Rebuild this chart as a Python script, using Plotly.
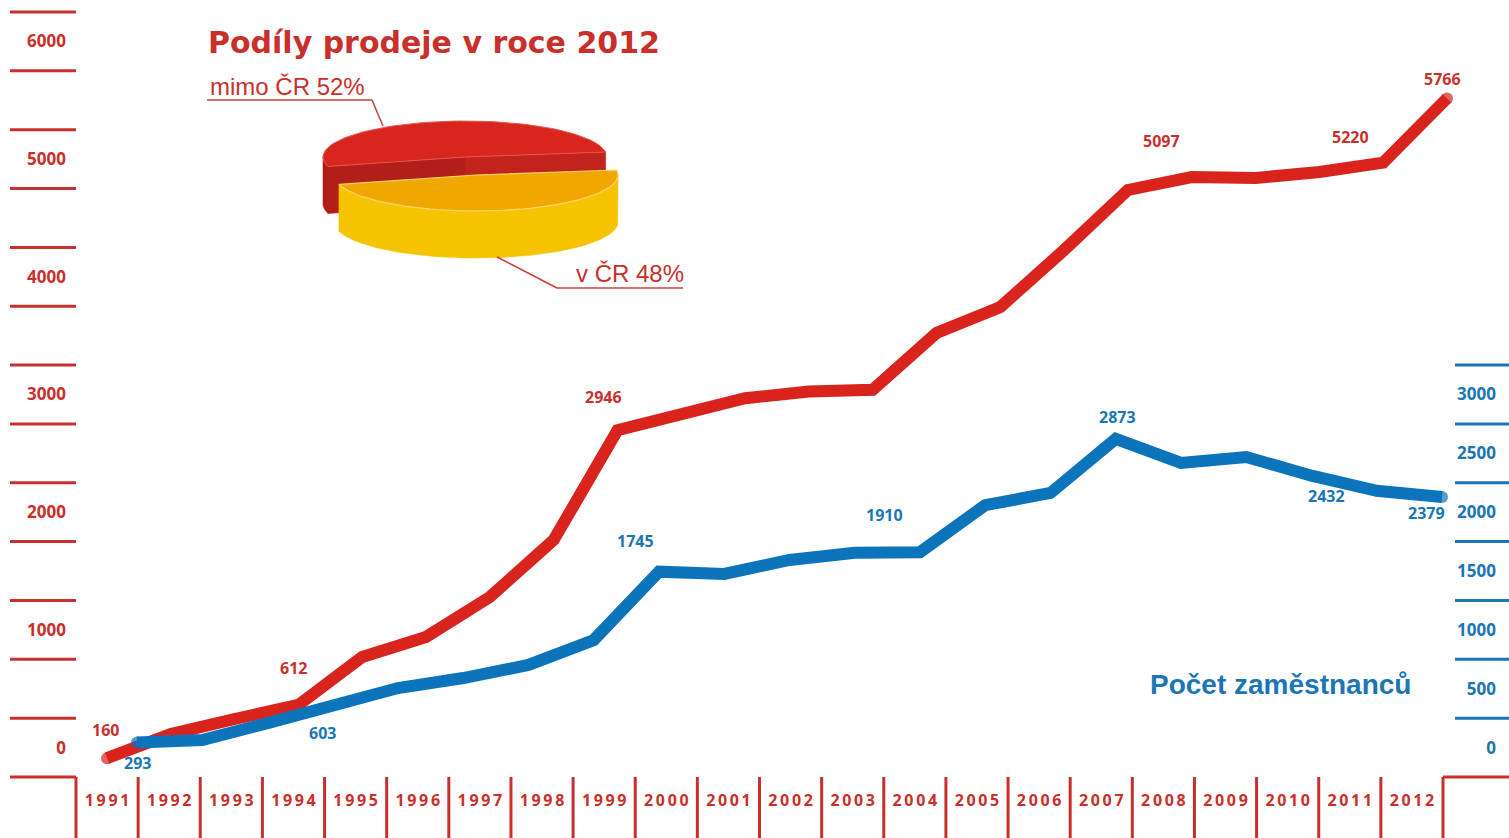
import math
import plotly.graph_objects as go

W, H = 1509, 838

# ---------------- data ----------------
years = list(range(1991, 2013))
sales = [160, 365, 493, 612, 1020, 1190, 1529, 2014, 2946, 3090, 3218,
         3275, 3290, 3773, 3993, 4478, 4988, 5097, 5090, 5140, 5220, 5766]
emp_years = list(range(1992, 2013))
employees = [293, 314, 458, 603, 756, 841, 952, 1164, 1745, 1725, 1844,
             1905, 1910, 2310, 2413, 2873, 2668, 2719, 2560, 2432, 2379]

left_ticks = [0, 1000, 2000, 3000, 4000, 5000, 6000]
right_ticks = [0, 500, 1000, 1500, 2000, 2500, 3000]

pie_labels = ["mimo ČR", "v ČR"]
pie_shares = [52, 48]

title_text = "Podíly prodeje v roce 2012"
emp_title = "Počet zaměstnanců"

# labelled points and their (xshift, yshift) offsets
red_label_years = {1991: (-2, 28), 1994: (-5, 37), 1999: (-14, 33),
                   2008: (-30, 36), 2011: (-33, 26), 2012: (-5, 19)}
blue_label_years = {1992: (0, -20), 1995: (-10, -27), 2000: (-24, 31),
                    2004: (-36, 37), 2007: (2, 22), 2011: (-50, -5),
                    2012: (-16, -16)}

# ---------------- styles ----------------
RED_LINE = "#d9231d"
RED_TXT = "#c9302c"
BLUE_LINE = "#0b74bb"
BLUE_TXT = "#1b76b6"
NUM_FONT = "Open Sans, DejaVu Sans, sans-serif"
HEAD_FONT = "Liberation Sans, Arial, sans-serif"
TITLE_FONT = "DejaVu Sans, Liberation Sans, sans-serif"


def fx(p):
    return p / W


def fy(p):
    return 1 - p / H


def lin_range(p0, v0, p1, v1, lo, hi):
    s = (v1 - v0) / (p1 - p0)
    return [v0 + (lo - p0) * s, v0 + (hi - p0) * s]


# axis ranges (pixel anchors -> value)
x_red = lin_range(107, 1991, 1447, 2012, 0, W)
x_blue = lin_range(137, 1992, 1442, 2012, 0, W)
x_years = lin_range(107.07, 1991, 1411.93, 2012, 0, W)
y_rng = lin_range(777, 0, 12, 6500, H, 0)  # bottom -> top

fig = go.Figure()

# red line (sales)
ends_r = [12 if i in (0, len(sales) - 1) else 0 for i in range(len(sales))]
fig.add_trace(go.Scatter(
    x=years, y=sales, xaxis="x", yaxis="y", mode="lines+markers",
    line=dict(color=RED_LINE, width=12),
    marker=dict(size=ends_r, color=RED_LINE, line=dict(width=0)),
    hoverinfo="skip", showlegend=False))

# blue line (employees)
ends_b = [12 if i in (0, len(employees) - 1) else 0 for i in range(len(employees))]
fig.add_trace(go.Scatter(
    x=emp_years, y=employees, xaxis="x2", yaxis="y2", mode="lines+markers",
    line=dict(color=BLUE_LINE, width=12),
    marker=dict(size=ends_b, color=BLUE_LINE, line=dict(width=0)),
    hoverinfo="skip", showlegend=False))

# ---------------- 3D-like pie built from the shares ----------------
cx, cy, ra, rb, depth = 476, 175, 142, 36, 47
start = 8.0
off = (-11, -18)
red_end = start + 360 * pie_shares[0] / 100
yel_end = start + 360


def rim(ccx, ccy, t, dz=0):
    r = math.radians(t)
    return ccx + ra * math.cos(r), ccy - rb * math.sin(r) + dz


def arc(ccx, ccy, t0, t1, dz=0, n=80):
    pts = [rim(ccx, ccy, t0 + (t1 - t0) * i / n, dz) for i in range(n + 1)]
    return [p[0] for p in pts], [p[1] for p in pts]


def poly(xs, ys, color, lc=None, lw=0.6):
    fig.add_trace(go.Scatter(
        x=xs + [xs[0]], y=ys + [ys[0]], xaxis="x4", yaxis="y4",
        mode="lines", fill="toself", fillcolor=color,
        line=dict(color=lc or color, width=lw),
        hoverinfo="skip", showlegend=False))


rcx, rcy = cx + off[0], cy + off[1]
# red cut faces
for ang, col in ((start, "#c3231d"), (red_end, "#b21f19")):
    px_, py_ = rim(rcx, rcy, ang)
    poly([rcx, px_, px_, rcx], [rcy, py_, py_ + depth, rcy + depth], col)
# red outer wall (front-facing part)
if red_end > 180:
    tx, ty = arc(rcx, rcy, 180, red_end, 0, 20)
    bx, by = arc(rcx, rcy, 180, red_end, depth, 20)
    poly(tx + bx[::-1], ty + by[::-1], "#ad1e18")
# red top face
tx, ty = arc(rcx, rcy, start, red_end)
poly([rcx] + tx, [rcy] + ty, "#d8251e", lc="#e4584f", lw=1)

# yellow outer wall
w0 = max(red_end, 180)
tx, ty = arc(cx, cy, w0, 360)
bx, by = arc(cx, cy, w0, 360, depth)
poly(tx + bx[::-1], ty + by[::-1], "#f6c300")
# yellow top face
tx, ty = arc(cx, cy, red_end, yel_end)
poly([cx] + tx, [cy] + ty, "#f0a700", lc="#fbd46a", lw=1.2)

# ---------------- shapes ----------------
shapes = []
for v in range(0, 6501, 500):
    shapes.append(dict(type="line", xref="paper", yref="y", x0=fx(10), x1=fx(76),
                       y0=v, y1=v, line=dict(color=RED_TXT, width=3)))
for v in range(500, 3501, 500):
    shapes.append(dict(type="line", xref="paper", yref="y", x0=fx(1455), x1=fx(1509),
                       y0=v, y1=v, line=dict(color=BLUE_TXT, width=3)))
shapes.append(dict(type="line", xref="paper", yref="y", x0=fx(1443), x1=fx(1509),
                   y0=0, y1=0, line=dict(color=RED_TXT, width=3)))
for k in range(len(years) + 1):
    xv = years[0] - 0.5 + k
    shapes.append(dict(type="line", xref="x3", yref="paper", x0=xv, x1=xv,
                       y0=0, y1=fy(777), line=dict(color=RED_TXT, width=3)))
# pie leader lines
for (x0, y0, x1, y1) in [(207, 100, 372, 100), (372, 100, 383, 126),
                         (497, 257, 557, 288), (557, 288, 683, 288)]:
    shapes.append(dict(type="line", xref="paper", yref="paper",
                       x0=fx(x0), y0=fy(y0), x1=fx(x1), y1=fy(y1),
                       line=dict(color="#c8403a", width=1.5)))

# ---------------- annotations ----------------
ann = []
for yr, (dx, dy) in red_label_years.items():
    v = sales[years.index(yr)]
    ann.append(dict(x=yr, y=v, xref="x", yref="y", text=str(v), showarrow=False,
                    xshift=dx, yshift=dy,
                    font=dict(family=NUM_FONT, size=16, color=RED_TXT, weight="bold")))
for yr, (dx, dy) in blue_label_years.items():
    v = employees[emp_years.index(yr)]
    ann.append(dict(x=yr, y=v, xref="x2", yref="y2", text=str(v), showarrow=False,
                    xshift=dx, yshift=dy,
                    font=dict(family=NUM_FONT, size=16, color=BLUE_TXT, weight="bold")))

ann.append(dict(x=fx(434), y=fy(42), xref="paper", yref="paper", text=title_text,
                showarrow=False, xanchor="center", yanchor="middle",
                font=dict(family=TITLE_FONT, size=30, color=RED_TXT, weight="bold")))
ann.append(dict(x=fx(287), y=fy(87), xref="paper", yref="paper",
                text=f"{pie_labels[0]} {pie_shares[0]}%", showarrow=False,
                xanchor="center", yanchor="middle",
                font=dict(family=HEAD_FONT, size=24, color=RED_TXT)))
ann.append(dict(x=fx(630), y=fy(273), xref="paper", yref="paper",
                text=f"{pie_labels[1]} {pie_shares[1]}%", showarrow=False,
                xanchor="center", yanchor="middle",
                font=dict(family=HEAD_FONT, size=24, color=RED_TXT)))
ann.append(dict(x=fx(1280), y=fy(684), xref="paper", yref="paper", text=emp_title,
                showarrow=False, xanchor="center", yanchor="middle",
                font=dict(family=HEAD_FONT, size=28, color=BLUE_TXT, weight="bold")))

year_text = ["\u2009".join(str(y)) for y in years]

hidden = dict(visible=False, showgrid=False, zeroline=False)

fig.update_layout(
    width=W, height=H, autosize=False,
    margin=dict(l=0, r=0, t=0, b=0, pad=0),
    paper_bgcolor="white", plot_bgcolor="white",
    showlegend=False,
    xaxis=dict(range=x_red, domain=[0, 1], anchor="y", **hidden),
    xaxis2=dict(range=x_blue, domain=[0, 1], overlaying="x", anchor="y", **hidden),
    xaxis3=dict(range=x_years, domain=[0, 1], overlaying="x", anchor="free",
                position=fy(777), side="bottom", showgrid=False, zeroline=False,
                showline=False, ticks="", tickmode="array", tickvals=years,
                ticktext=year_text, ticklabelstandoff=12,
                tickfont=dict(family=NUM_FONT, size=16, color=RED_TXT, weight="bold")),
    xaxis4=dict(range=[0, W], domain=[0, 1], overlaying="x", anchor="y", **hidden),
    yaxis=dict(range=y_rng, domain=[0, 1], anchor="free", position=fx(66),
               side="left", showgrid=False, zeroline=False, showline=False,
               ticks="", tickmode="array", tickvals=[v + 250 for v in left_ticks],
               ticktext=[str(v) for v in left_ticks], ticklabelstandoff=0,
               tickfont=dict(family=NUM_FONT, size=17, color=RED_TXT, weight="bold")),
    yaxis2=dict(range=y_rng, domain=[0, 1], overlaying="y", anchor="free",
                position=fx(1499), side="right", ticklabelposition="inside",
                showgrid=False, zeroline=False, showline=False, ticks="",
                tickmode="array", tickvals=[v + 250 for v in right_ticks],
                ticktext=[str(v) for v in right_ticks], ticklabelstandoff=0,
                tickfont=dict(family=NUM_FONT, size=17, color=BLUE_TXT, weight="bold")),
    yaxis4=dict(range=[H, 0], domain=[0, 1], overlaying="y", anchor="x", **hidden),
    shapes=shapes,
    annotations=ann,
)

fig.write_html("out.html", config={"displayModeBar": False},
               post_script="document.body.style.margin='0';document.body.style.overflow='hidden';")
